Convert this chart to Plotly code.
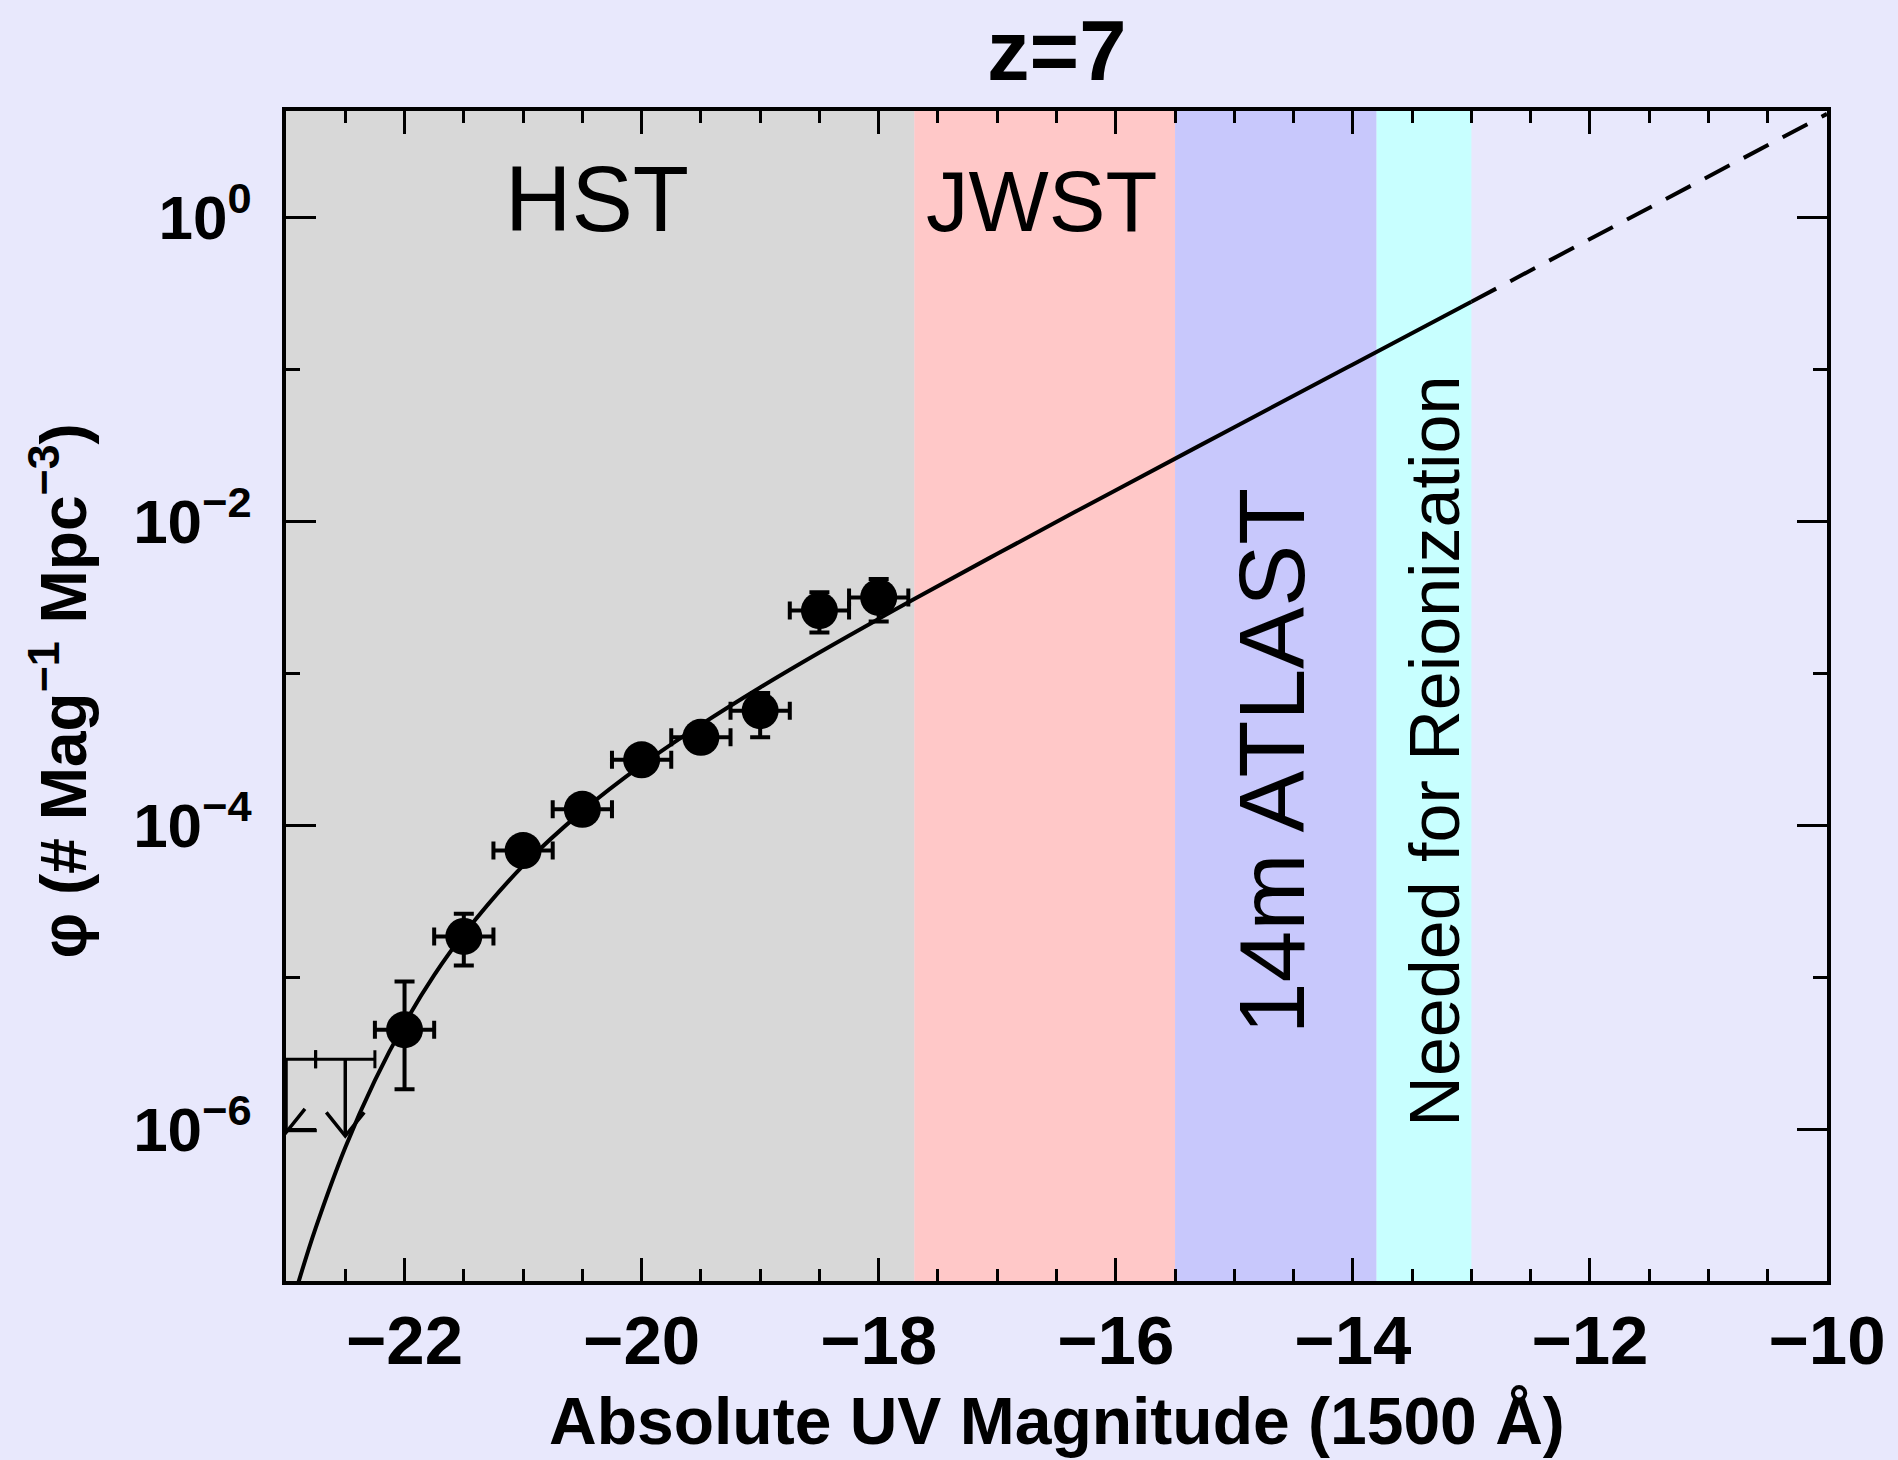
import plotly.graph_objects as go

# ---------------- data ----------------
mag_obs = [-22.0, -21.5, -21.0, -20.5, -20.0, -19.5, -19.0, -18.5, -18.0]
phi_obs = [4.5e-6, 1.85e-5, 6.8e-5, 1.27e-4, 2.69e-4, 3.78e-4, 5.66e-4, 2.58e-3, 3.15e-3]
phi_hi = [9.35e-6, 2.61e-5, 8.0e-5, 1.5e-4, 3.1e-4, 4.4e-4, 7.4e-4, 3.40e-3, 4.16e-3]
phi_lo = [1.83e-6, 1.19e-5, 5.8e-5, 1.08e-4, 2.33e-4, 3.25e-4, 3.78e-4, 1.85e-3, 2.19e-3]
mag_err = [0.25, 0.25, 0.25, 0.25, 0.25, 0.25, 0.25, 0.25, 0.25]

ul_mag = [-23.0, -22.5]          # upper limits
ul_phi = [2.88e-6, 2.88e-6]
ul_tip = [9.5e-7, 9.0e-7]
ul_err = [0.25, 0.25]

fit_mag = [-23.0, -22.89, -22.75, -22.5, -22.25, -22.0, -21.75, -21.5, -21.0, -20.5,
           -20.0, -19.5, -19.0, -18.5, -18.0, -17.7, -17.0, -16.0, -15.0, -14.0, -13.0]
fit_phi = [5.08e-8, 1.01e-7, 2.23e-7, 7.57e-7, 2.09e-6, 4.94e-6, 1.03e-5, 1.92e-5, 5.41e-5, 1.236e-4,
           2.48e-4, 4.58e-4, 8.05e-4, 1.368e-3, 2.275e-3, 3.07e-3, 6.10e-3, 1.60e-2, 4.15e-2, 0.1074, 0.278]
ext_mag = [-13.0, -12.0, -11.0, -10.0]
ext_phi = [0.278, 0.718, 1.854, 4.786]

band_edges = [-23.0, -17.7, -15.5, -13.8, -13.0]
band_colors = ["#d8d8d8", "#ffc8c8", "#c8c8fc", "#c8ffff"]

x_ticks = [-22, -20, -18, -16, -14, -12, -10]
y_ticks = [1, 1e-2, 1e-4, 1e-6]
y_ticktext = ["10<sup>0</sup>", "10<sup>−2</sup>", "10<sup>−4</sup>", "10<sup>−6</sup>"]
y_minor = [1e-1, 1e-3, 1e-5, 1e-7]

BG = "#e8e8fc"
FONT = "Liberation Sans"

fig = go.Figure()

# bands
for i, c in enumerate(band_colors):
    fig.add_shape(type="rect", xref="x", yref="paper", x0=band_edges[i], x1=band_edges[i + 1],
                  y0=0, y1=1, fillcolor=c, line_width=0, layer="below")

# fit curve
fig.add_trace(go.Scatter(x=fit_mag, y=fit_phi, mode="lines",
                         line=dict(color="black", width=4, shape="spline", smoothing=1.0),
                         hoverinfo="skip"))
fig.add_trace(go.Scatter(x=ext_mag, y=ext_phi, mode="lines",
                         line=dict(color="black", width=4, dash="28px,16px"),
                         hoverinfo="skip"))

# upper limits: horizontal bars
fig.add_trace(go.Scatter(x=ul_mag, y=ul_phi, mode="markers",
                         marker=dict(size=1, color="rgba(0,0,0,0)"),
                         error_x=dict(type="data", array=ul_err, color="black", thickness=3, width=9),
                         hoverinfo="skip"))
# upper limits: arrows
ax, ay = [], []
arm_dx = 0.16
arm_fac = 10 ** 0.155
for m, p, t in zip(ul_mag, ul_phi, ul_tip):
    ax += [m, m, None, m - arm_dx, m, m + arm_dx, None]
    ay += [p, t, None, t * arm_fac, t, t * arm_fac, None]
ax += [ul_mag[0], ul_mag[0] + ul_err[0] + 0.01, None]
ay += [ul_tip[0] * 1.03, ul_tip[0] * 1.03, None]
fig.add_trace(go.Scatter(x=ax, y=ay, mode="lines", line=dict(color="black", width=3.5),
                         hoverinfo="skip"))

# data points
fig.add_trace(go.Scatter(
    x=mag_obs, y=phi_obs, mode="markers",
    marker=dict(size=37, color="black"),
    error_y=dict(type="data", symmetric=False,
                 array=[h - v for h, v in zip(phi_hi, phi_obs)],
                 arrayminus=[v - l for v, l in zip(phi_obs, phi_lo)],
                 color="black", thickness=4, width=10),
    error_x=dict(type="data", array=mag_err, color="black", thickness=4, width=9),
    hoverinfo="skip"))

# labels
def ann(text, x, y, size, xref="x", yref="paper", angle=0, weight="normal"):
    fig.add_annotation(text=text, x=x, y=y, xref=xref, yref=yref, showarrow=False,
                       textangle=angle, xanchor="center", yanchor="middle",
                       font=dict(family=FONT, size=size, color="black", weight=weight))

ann("HST", -20.38, 0.925, 92)
ann("JWST", -16.63, 0.923, 85)
ann("14m ATLAST", -14.685, 0.444, 93, angle=-90)
ann("Needed for Reionization", -13.31, 0.453, 70, angle=-90)
ann("z=7", 0.5, 1.052, 85, xref="paper", weight="bold")
ann("Absolute UV Magnitude (1500 Å)", 0.5, -0.12, 66, xref="paper", weight="bold")
ann("φ (# Mag<sup>−1</sup> Mpc<sup>−3</sup>)", -0.147, 0.505, 64, xref="paper", angle=-90,
    weight="bold")

fig.update_layout(
    width=1898, height=1460,
    margin=dict(l=286, r=69, t=111, b=179, pad=0),
    paper_bgcolor=BG, plot_bgcolor=BG,
    showlegend=False,
    xaxis=dict(range=[-23, -10], tickvals=x_ticks, ticks="inside", ticklen=23, tickwidth=3,
               tickcolor="black", showline=True, linewidth=4, linecolor="black", mirror="allticks",
               showgrid=False, zeroline=False, ticklabelstandoff=-4,
               tickfont=dict(family=FONT, size=69, color="black", weight="bold"),
               minor=dict(dtick=0.5, tick0=-23, ticks="inside", ticklen=12, tickwidth=3,
                          tickcolor="black", showgrid=False)),
    yaxis=dict(type="log", range=[-7, 0.699], tickvals=y_ticks, ticktext=y_ticktext,
               ticks="inside", ticklen=30, tickwidth=3, tickcolor="black",
               showline=True, linewidth=4, linecolor="black", mirror="allticks",
               showgrid=False, zeroline=False, ticklabelstandoff=18,
               tickfont=dict(family=FONT, size=62, color="black", weight="bold"),
               minor=dict(tickvals=y_minor, ticks="inside", ticklen=14, tickwidth=3,
                          tickcolor="black", showgrid=False)),
)

fig.write_html("out.html", config={"displayModeBar": False},
               post_script="document.body.style.margin='0';")
